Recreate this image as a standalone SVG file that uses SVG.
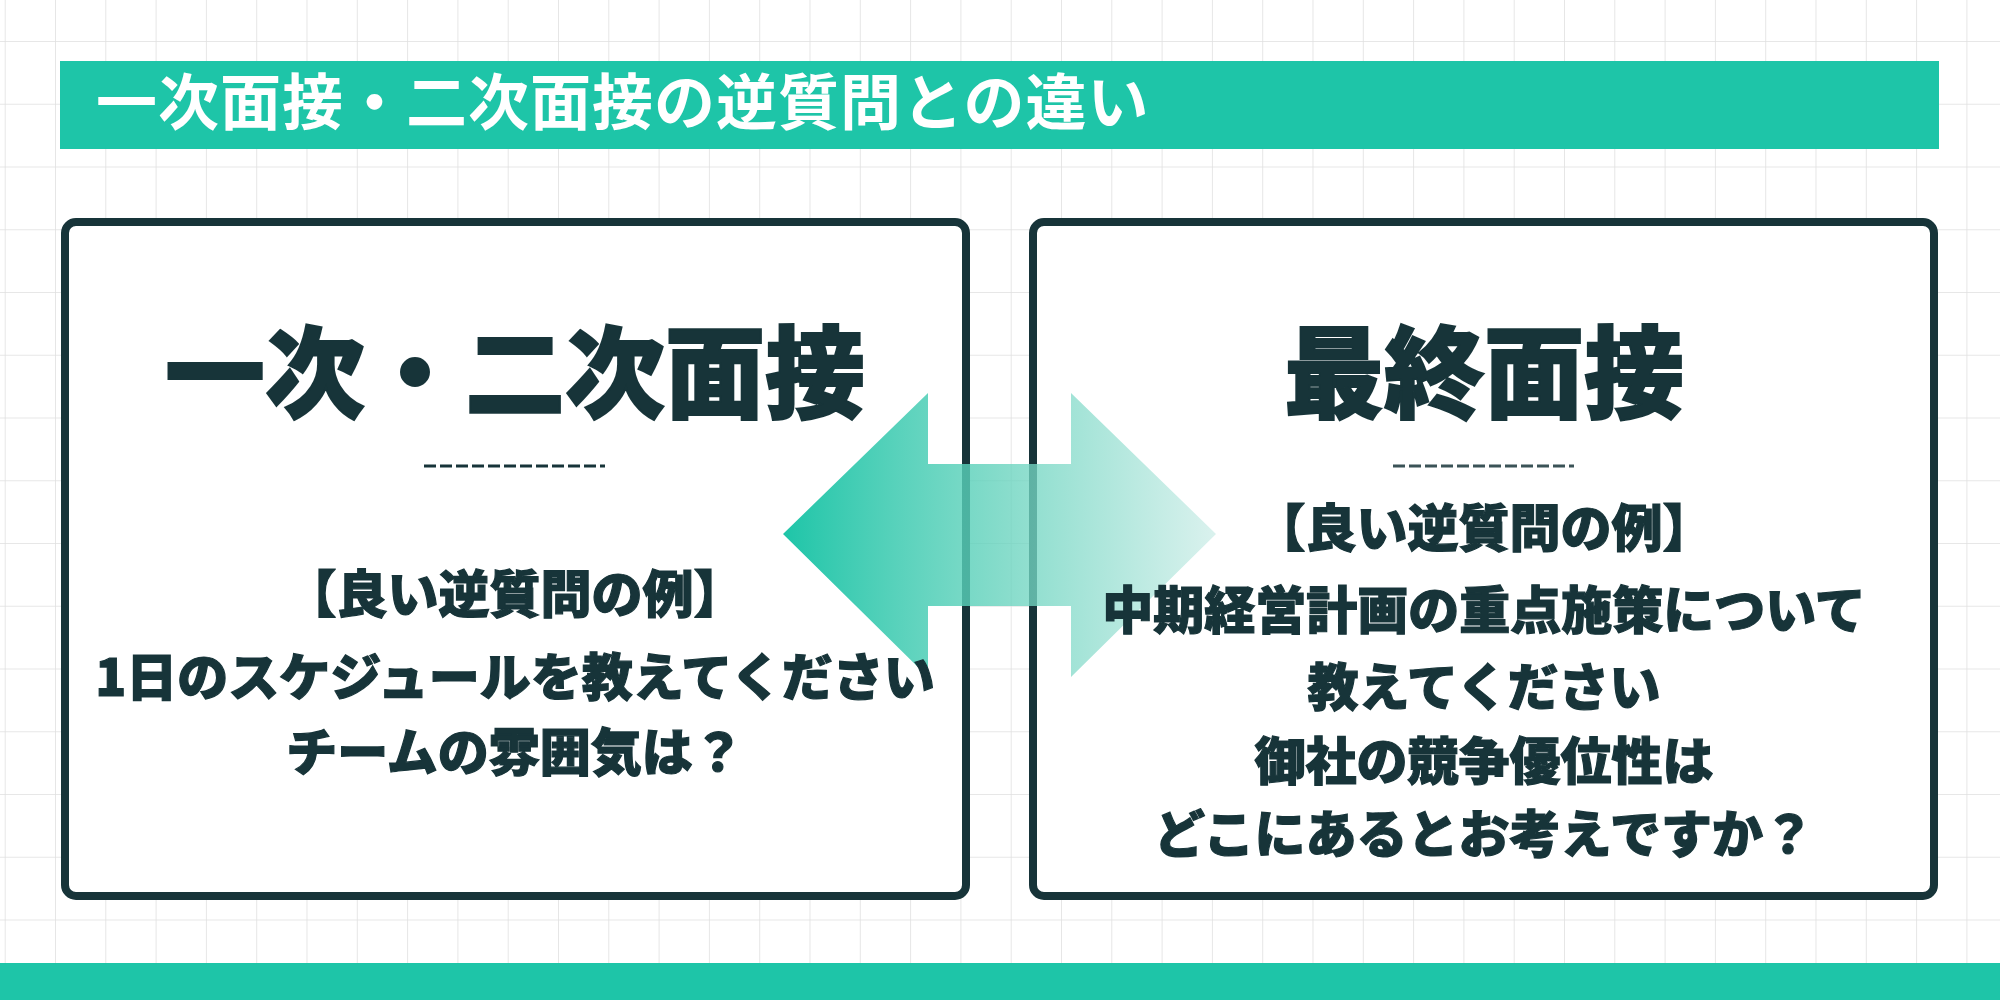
<svg xmlns="http://www.w3.org/2000/svg" width="2000" height="1000" viewBox="0 0 2000 1000">
  <style>
    .jp { font-family: "Noto Sans CJK JP", "Noto Sans", sans-serif; }
    .head { font-size: 100px; font-weight: 900; fill: #173439; stroke: #173439; stroke-width: 2; text-anchor: middle; }
    .body { font-size: 51px; font-weight: 900; fill: #173439; stroke: #173439; stroke-width: 1.2; text-anchor: middle; }
    .title { font-size: 61px; font-weight: 700; fill: #ffffff; letter-spacing: 1px; }
    .box { fill: #ffffff; stroke: #173439; stroke-width: 8; }
    .dash { stroke-width: 3; stroke-dasharray: 12 4; fill: none; }
  </style>
  <defs>
    <pattern id="grid" x="55" y="41" width="50.3" height="62.75" patternUnits="userSpaceOnUse">
      <path d="M0 0 V62.75 M0 0 H50.3" stroke="#dfdfdf" stroke-width="1.5" fill="none"/>
    </pattern>
    <linearGradient id="arrowGrad" x1="783" y1="0" x2="1216" y2="0" gradientUnits="userSpaceOnUse">
      <stop offset="0" stop-color="#1ec5a8" stop-opacity="1"/>
      <stop offset="0.5" stop-color="#63d2bc" stop-opacity="0.78"/>
      <stop offset="1" stop-color="#d0eee9" stop-opacity="0.78"/>
    </linearGradient>
  </defs>

  <rect width="2000" height="1000" fill="#ffffff"/>
  <rect width="2000" height="1000" fill="url(#grid)"/>

  <g id="title">
    <rect x="60" y="61" width="1879" height="88" fill="#1ec5a8"/>
    <text class="jp title" x="96" y="125">一次面接・二次面接の逆質問との違い</text>
  </g>

  <rect x="0" y="963" width="2000" height="37" fill="#1ec5a8"/>

  <g id="box-left">
    <rect class="box" x="65" y="222" width="901" height="674" rx="11"/>
  </g>
  <g id="box-right">
    <rect class="box" x="1033" y="222" width="901" height="674" rx="11"/>
  </g>

  <g id="connectors">
    <path d="M783 534 L928 393 L928 464 L1071 464 L1071 393 L1216 534 L1071 677 L1071 606 L928 606 L928 677 Z" fill="url(#arrowGrad)"/>
  </g>

  <g id="box-left-text">
    <text class="jp head" x="515" y="410">一次・二次面接</text>
    <line class="dash" x1="424" y1="466" x2="605" y2="466" stroke="#173439"/>
    <text class="jp body" x="515" y="613">【良い逆質問の例】</text>
    <text class="jp body" x="515" y="696">1日のスケジュールを教えてください</text>
    <text class="jp body" x="515" y="771">チームの雰囲気は？</text>
  </g>

  <g id="box-right-text">
    <text class="jp head" x="1484" y="410">最終面接</text>
    <line class="dash" x1="1393" y1="466" x2="1574" y2="466" stroke="#3b5357"/>
    <text class="jp body" x="1484" y="547">【良い逆質問の例】</text>
    <text class="jp body" x="1484" y="629">中期経営計画の重点施策について</text>
    <text class="jp body" x="1484" y="706">教えてください</text>
    <text class="jp body" x="1484" y="780">御社の競争優位性は</text>
    <text class="jp body" x="1484" y="853">どこにあるとお考えですか？</text>
  </g>
</svg>
